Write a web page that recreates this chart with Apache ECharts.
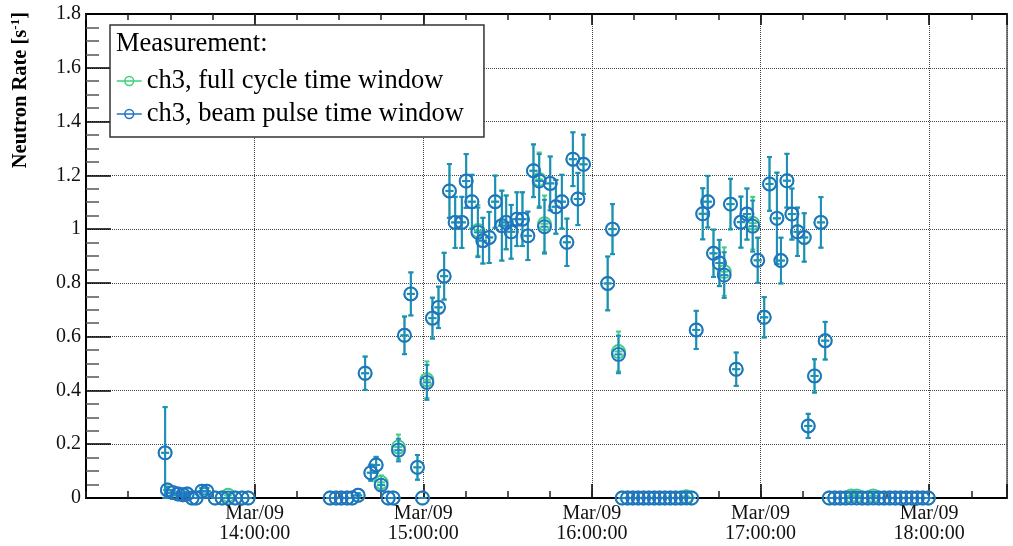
<!DOCTYPE html>
<html><head><meta charset="utf-8">
<script src="https://cdn.jsdelivr.net/npm/echarts@6/dist/echarts.min.js"></script>
<style>html,body{margin:0;padding:0;background:#fff}#chart{width:1013px;height:546px}</style>
</head><body><div id="chart"></div>
<script>
// ---- data (times on Mar/09, values in s^-1) ----
const times = [
 "13:28:09","13:28:58","13:31:00","13:32:47","13:34:33","13:35:59","13:37:45","13:39:11","13:41:13","13:42:59","13:45:56","13:48:26","13:50:34","13:53:04","13:55:33","13:57:41",
 "14:26:52","14:29:00","14:30:47","14:32:55","14:34:42","14:36:50","14:39:19","14:41:21","14:43:14","14:45:01","14:47:31","14:49:17","14:51:10","14:53:19","14:55:35","14:57:56","14:59:43",
 "15:01:17","15:03:16","15:05:25","15:07:26","15:09:19","15:11:21","15:13:44","15:15:16","15:17:18","15:19:26","15:21:13","15:23:27","15:25:35","15:27:58","15:29:30","15:31:17","15:33:19","15:35:18","15:37:13","15:39:13","15:41:15","15:43:08","15:45:10","15:47:11","15:49:19","15:51:06","15:53:14","15:55:01","15:57:01",
 "16:05:37","16:07:20","16:09:28",
 "16:10:47","16:12:41","16:14:35","16:16:29","16:18:23","16:20:17","16:22:11","16:24:05","16:25:59","16:27:53","16:29:47","16:31:41","16:33:35","16:35:29",
 "16:37:07","16:39:26","16:41:13","16:43:16","16:45:22","16:47:05","16:49:19","16:51:21","16:53:01","16:55:10","16:57:13","16:59:00","17:01:19","17:03:12","17:05:50","17:07:16","17:09:24","17:11:10","17:13:10","17:15:33","17:16:59","17:19:13","17:21:29","17:23:01",
 "17:24:27","17:26:25","17:28:22","17:30:19","17:32:17","17:34:14","17:36:11","17:38:09","17:40:07","17:42:04","17:44:01","17:45:59","17:47:56","17:49:53","17:51:51","17:53:49","17:55:46","17:57:43","17:59:41"
];
const beamPulse = [
 0.168,0.03,0.02,0.015,0.012,0.015,0,0,0.025,0.025,0,0,0,0,0,0,
 0,0,0,0,0,0.01,0.464,0.094,0.123,0.048,0,0,0.178,0.605,0.759,0.114,0,
 0.430,0.669,0.709,0.825,1.142,1.025,1.025,1.179,1.102,0.988,0.957,0.969,1.102,1.013,1.025,0.990,1.037,1.037,0.975,1.217,1.179,1.009,1.170,1.083,1.102,0.951,1.260,1.112,1.241,
 0.798,1.000,0.534,
 0,0,0,0,0,0,0,0,0,0,0,0,0,0,
 0.625,1.057,1.102,0.910,0.874,0.829,1.093,0.479,1.026,1.056,1.011,0.884,0.672,1.168,1.040,0.883,1.180,1.056,0.990,0.969,0.268,0.454,1.025,0.585,
 0,0,0,0,0,0,0,0,0,0,0,0,0,0,0,0,0,0,0
];
const beamPulseErr = [
 0.17,0.012,0.01,0.008,0.008,0.008,0,0,0.012,0.012,0,0,0,0,0,0,
 0,0,0,0,0,0.008,0.062,0.03,0.03,0.022,0,0,0.042,0.07,0.08,0.046,0,
 0.065,0.076,0.077,0.087,0.1,0.095,0.095,0.1,0.1,0.092,0.085,0.095,0.097,0.13,0.1,0.1,0.1,0.1,0.09,0.098,0.1,0.1,0.1,0.1,0.1,0.088,0.1,0.097,0.11,
 0.1,0.093,0.07,
 0,0,0,0,0,0,0,0,0,0,0,0,0,0,
 0.071,0.095,0.096,0.088,0.086,0.085,0.094,0.062,0.095,0.095,0.095,0.084,0.075,0.1,0.17,0.085,0.1,0.095,0.09,0.09,0.045,0.062,0.094,0.07,
 0,0,0,0,0,0,0,0,0,0,0,0,0,0,0,0,0,0,0
];
const fullCycle = [
 0.168,0.03,0.02,0.015,0.012,0.015,0,0,0.025,0.025,0,0,0.01,0,0,0,
 0,0,0,0,0,0.01,0.464,0.094,0.123,0.058,0,0,0.19,0.605,0.759,0.114,0,
 0.440,0.669,0.709,0.825,1.142,1.025,1.025,1.179,1.102,0.995,0.957,0.969,1.102,1.013,1.025,0.990,1.037,1.037,0.975,1.217,1.185,1.020,1.170,1.083,1.102,0.951,1.260,1.112,1.241,
 0.798,1.000,0.545,
 0,0,0,0,0,0,0,0,0,0,0,0,0.005,0,
 0.625,1.057,1.102,0.910,0.874,0.842,1.093,0.479,1.026,1.056,1.022,0.884,0.672,1.168,1.040,0.883,1.180,1.056,0.990,0.969,0.268,0.454,1.025,0.585,
 0,0,0,0,0.008,0.008,0,0,0.008,0,0,0,0,0,0,0,0,0,0
];
const fullCycleErr = [
 0.17,0.012,0.01,0.008,0.008,0.008,0,0,0.012,0.012,0,0,0.006,0,0,0,
 0,0,0,0,0,0.008,0.062,0.03,0.03,0.026,0,0,0.046,0.07,0.08,0.046,0,
 0.068,0.076,0.077,0.087,0.1,0.095,0.095,0.1,0.1,0.094,0.085,0.095,0.097,0.13,0.1,0.1,0.1,0.1,0.09,0.098,0.1,0.105,0.1,0.1,0.1,0.088,0.1,0.097,0.11,
 0.1,0.093,0.074,
 0,0,0,0,0,0,0,0,0,0,0,0,0.004,0,
 0.071,0.095,0.096,0.088,0.086,0.09,0.094,0.062,0.095,0.095,0.098,0.084,0.075,0.1,0.17,0.085,0.1,0.095,0.09,0.09,0.045,0.062,0.094,0.07,
 0,0,0,0,0.006,0.006,0,0,0.006,0,0,0,0,0,0,0,0,0,0
];
const seriesNames = ['ch3, full cycle time window', 'ch3, beam pulse time window'];
const legendTitle = 'Measurement:';
const yAxisTitle = 'Neutron Rate [s';
const dateLabel = 'Mar/09';

// ---- helpers ----
const START_HOUR = 13;
function toMin(t) { const p = t.split(':').map(Number); return (p[0] - START_HOUR) * 60 + p[1] + p[2] / 60; }
const xs = times.map(toMin);
const pts = (vals) => vals.map((v, i) => [xs[i], v]);
const errPts = (vals, errs) => vals.map((v, i) => [xs[i], v, errs[i]]);

const GREEN = '#3fcf7d', BLUE = '#2271c5', ERR_BLUE = '#1f8cbd';
const FONT = 'Liberation Serif';

function errRenderer(color) {
  return function (params, api) {
    const x = api.value(0), y = api.value(1), e = api.value(2);
    const c = api.coord([x, y]);
    const st = { stroke: color, lineWidth: 2 };
    const ch = [{ type: 'line', shape: { x1: c[0] - 4, y1: c[1], x2: c[0] + 4, y2: c[1] }, style: st }];
    if (e > 0) {
      const t = api.coord([x, y + e]), b = api.coord([x, Math.max(0, y - e)]);
      ch.push({ type: 'line', shape: { x1: c[0], y1: t[1], x2: c[0], y2: b[1] }, style: st });
      ch.push({ type: 'line', shape: { x1: c[0] - 2.5, y1: t[1], x2: c[0] + 2.5, y2: t[1] }, style: st });
      ch.push({ type: 'line', shape: { x1: c[0] - 2.5, y1: b[1], x2: c[0] + 2.5, y2: b[1] }, style: st });
    }
    return { type: 'group', children: ch };
  };
}

const X_MIN = 0, X_MAX = 327.7;
function hourLabel(v) {
  if (v <= 0 || Math.abs(v % 60) > 1e-6) return '';
  const h = START_HOUR + v / 60;
  return dateLabel + '\n' + String(h).padStart(2, '0') + ':00:00';
}
const baseX = { type: 'value', min: X_MIN, max: X_MAX, axisLine: { show: false, onZero: false }, splitLine: { show: false }, axisLabel: { show: false }, axisTick: { show: false } };

const chart = echarts.init(document.getElementById('chart'), null, { renderer: 'canvas' });
chart.setOption({
  animation: false,
  backgroundColor: '#fff',
  grid: { left: 86, right: 6, top: 14, bottom: 48, containLabel: false },
  xAxis: [
    Object.assign({}, baseX, {
      position: 'bottom', interval: 60,
      axisLine: { show: true, onZero: false, lineStyle: { color: '#000', width: 2 } },
      axisTick: { show: true, inside: true, length: 14, lineStyle: { color: '#000', width: 1.5 } },
      axisLabel: { show: true, formatter: hourLabel, margin: 6, fontFamily: FONT, fontSize: 20, color: '#111', lineHeight: 20 },
      splitLine: { show: true, lineStyle: { color: '#444', type: 'dotted', width: 1 } }
    }),
    Object.assign({}, baseX, {
      position: 'bottom', interval: 15,
      axisTick: { show: true, inside: true, length: 7, lineStyle: { color: '#222', width: 1.5 } }
    }),
    Object.assign({}, baseX, {
      position: 'top', interval: 60,
      axisLine: { show: true, onZero: false, lineStyle: { color: '#000', width: 2 } },
      axisTick: { show: true, inside: true, length: 11, lineStyle: { color: '#000', width: 1.5 } }
    }),
    Object.assign({}, baseX, {
      position: 'top', interval: 15,
      axisTick: { show: true, inside: true, length: 6, lineStyle: { color: '#222', width: 1.5 } }
    })
  ],
  yAxis: [
    {
      type: 'value', position: 'left', min: 0, max: 1.8, interval: 0.2,
      axisLine: { show: true, onZero: false, lineStyle: { color: '#000', width: 2 } },
      axisTick: { show: true, inside: true, length: 25, lineStyle: { color: '#000', width: 1.5 } },
      minorTick: { show: true, splitNumber: 4, length: 13, lineStyle: { color: '#555', width: 1.5 } },
      axisLabel: { fontFamily: FONT, fontSize: 20, color: '#111', margin: 5 },
      splitLine: { show: true, lineStyle: { color: '#444', type: 'dotted', width: 1 } }
    },
    {
      type: 'value', position: 'right', min: 0, max: 1.8, interval: 0.2,
      axisLine: { show: true, onZero: false, lineStyle: { color: '#555', width: 1.5 } },
      axisTick: { show: false }, axisLabel: { show: false }, splitLine: { show: false }
    }
  ],
  legend: {
    data: seriesNames, orient: 'vertical', left: 110, top: 25,
    padding: [41, 20, 8, 6],
    backgroundColor: '#fff', borderColor: '#333', borderWidth: 1.5,
    itemWidth: 25, itemHeight: 11, itemGap: 3,
    textStyle: { fontFamily: FONT, fontSize: 26.5, color: '#000', lineHeight: 30 },
    lineStyle: { opacity: 1, width: 1.5 },
    itemStyle: { borderWidth: 1.5 },
    selectedMode: false, z: 10
  },
  graphic: [
    { type: 'text', left: 116, top: 31, z: 100, style: { text: legendTitle, fontFamily: FONT, fontSize: 26.5, fill: '#000' } },
    { type: 'text', x: 21, y: 12, rotation: Math.PI / 2, z: 100,
      style: { text: '{b|' + yAxisTitle + '}{s|-1}{b|]}', align: 'right', verticalAlign: 'middle',
        rich: { b: { fontFamily: FONT, fontWeight: 'bold', fontSize: 20.5, fill: '#000', lineHeight: 23 },
                s: { fontFamily: FONT, fontWeight: 'bold', fontSize: 13, fill: '#000', verticalAlign: 'top', lineHeight: 23 } } } }
  ],
  series: [
    { type: 'custom', name: 'fullErr', renderItem: errRenderer(GREEN), data: errPts(fullCycle, fullCycleErr), encode: { x: 0, y: 1 }, z: 2, silent: true },
    { type: 'line', name: seriesNames[0], data: pts(fullCycle), symbol: 'circle', symbolSize: 13, showSymbol: true,
      itemStyle: { color: 'rgba(0,0,0,0)', borderColor: GREEN, borderWidth: 1.9 },
      lineStyle: { color: GREEN, width: 0, opacity: 0 }, z: 3, silent: true },
    { type: 'custom', name: 'beamErr', renderItem: errRenderer(ERR_BLUE), data: errPts(beamPulse, beamPulseErr), encode: { x: 0, y: 1 }, z: 4, silent: true },
    { type: 'line', name: seriesNames[1], data: pts(beamPulse), symbol: 'circle', symbolSize: 13, showSymbol: true,
      itemStyle: { color: 'rgba(0,0,0,0)', borderColor: BLUE, borderWidth: 1.9 },
      lineStyle: { color: BLUE, width: 0, opacity: 0 }, z: 5, silent: true }
  ]
});
</script></body></html>
